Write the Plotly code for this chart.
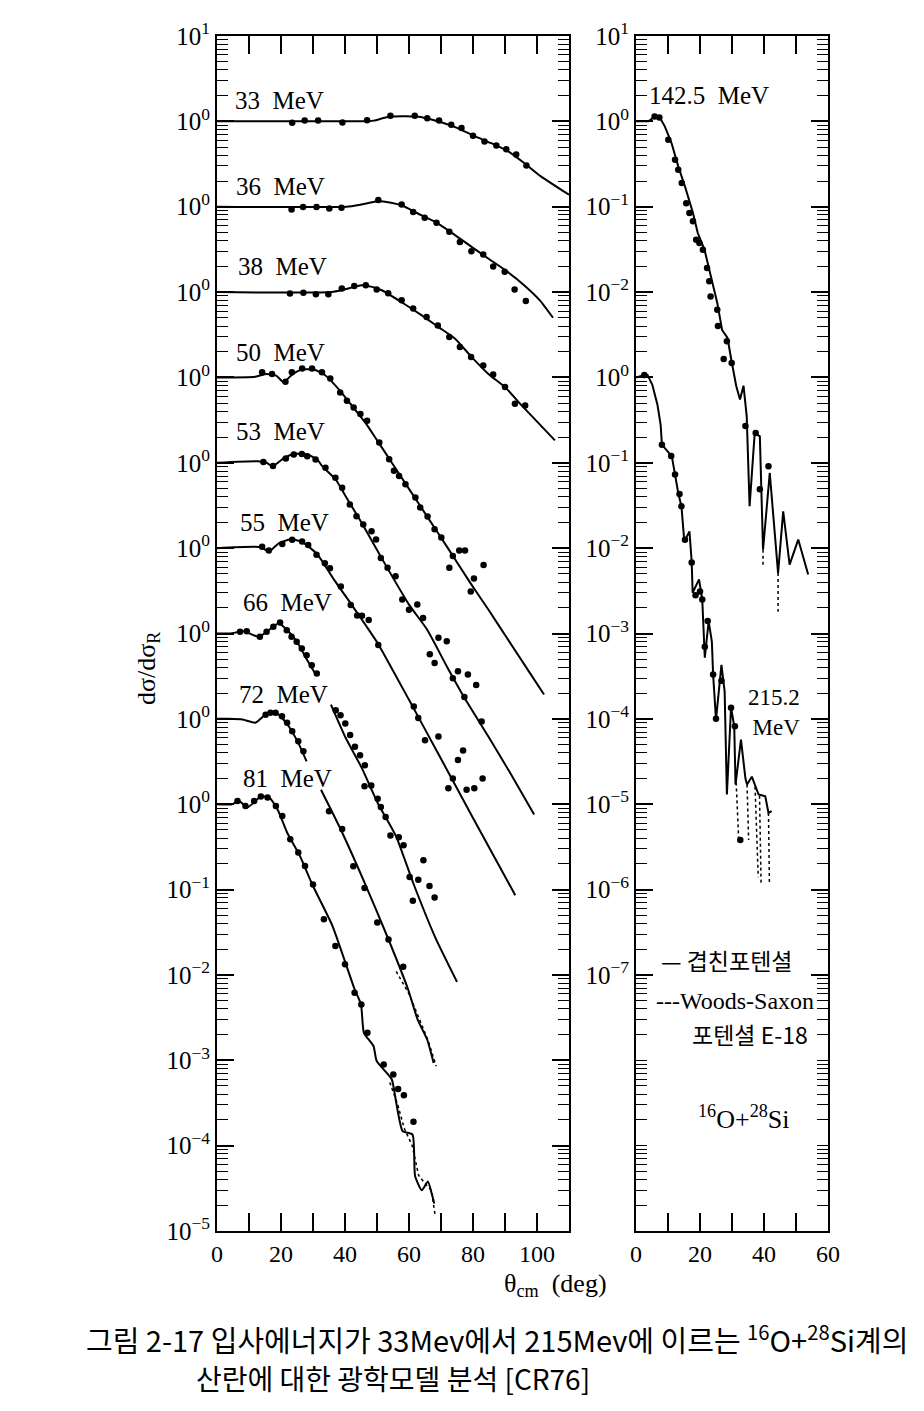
import plotly.graph_objects as go

# page body has an 8 px margin: figure is drawn 8 px in from the window corner
OFF = 8
W, H = 924 - 2 * OFF, 1411 - 2 * OFF

# ---------------- data (dσ/dσR ratio, each curve shown shifted by decades) -------------
# Left panel
e33_lx = [0, 45, 49, 53, 58, 63, 67, 71, 75, 80.5, 85.7, 91, 96, 101, 110]
e33_ly = [1.0, 1.0, 1.02, 1.12, 1.15, 1.13, 1.05, 0.95, 0.84, 0.67, 0.555, 0.445, 0.325, 0.23, 0.138]
e33_px = [23.5, 27.4, 31.6, 39.2, 46.9, 54.2, 61.8, 65.7, 69.4, 73.2, 76.4, 80, 83.6, 87.3, 90.4, 93.5, 96.7]
e33_py = [0.96, 1.02, 1.02, 0.97, 1.03, 1.16, 1.16, 1.09, 1.02, 0.91, 0.835, 0.68, 0.58, 0.52, 0.47, 0.41, 0.305]

e36_lx = [0, 40.5, 45, 50.4, 54, 58.2, 62.3, 68.6, 74.8, 80, 85.2, 90.5, 95.7, 100.9, 105]
e36_ly = [1.0, 1.0, 1.06, 1.16, 1.12, 1.02, 0.85, 0.65, 0.453, 0.33, 0.241, 0.176, 0.123, 0.08, 0.05]
e36_px = [23.3, 26.9, 31.1, 35.1, 38.9, 50.4, 57.7, 61.3, 64.9, 68.6, 72.6, 75.9, 79.5, 83.2, 86.3, 89.9, 93, 96.5]
e36_py = [0.93, 0.99, 0.99, 0.955, 0.97, 1.2, 1.065, 0.866, 0.743, 0.65, 0.51, 0.385, 0.30, 0.276, 0.2, 0.173, 0.107, 0.0785]

e38_lx = [0, 35.8, 40, 45.2, 48.5, 51.5, 57.7, 64, 69.2, 74.4, 79.6, 84.8, 90, 95.2, 105.6]
e38_ly = [1.0, 1.0, 1.08, 1.2, 1.15, 1.05, 0.76, 0.533, 0.389, 0.284, 0.173, 0.11, 0.077, 0.047, 0.0183]
e38_px = [22.8, 27, 30.9, 34.8, 39, 42.9, 46.5, 49.9, 53.5, 57.7, 61.3, 65.5, 69, 72.6, 75.9, 79.4, 83.2, 86.3, 90, 93.1, 96.3]
e38_py = [0.96, 0.98, 0.94, 0.94, 1.1, 1.18, 1.2, 1.07, 0.97, 0.8, 0.64, 0.51, 0.407, 0.297, 0.227, 0.173, 0.138, 0.108, 0.077, 0.049, 0.047]

e50_lx = [0, 12, 15.5, 18.5, 20.8, 23.5, 26.5, 30.5, 33.8, 38, 42.2, 46.3, 49.8, 55, 60, 66, 72, 79, 85, 90, 97.7, 102.2]
e50_ly = [1.0, 1.02, 1.1, 1.05, 0.88, 1.08, 1.24, 1.23, 1.06, 0.73, 0.465, 0.297, 0.189, 0.0955, 0.0495,
          0.0225, 0.0102, 0.004, 0.00186, 0.00096, 0.000348, 0.000193]
e50_px = [14.1, 17.2, 21.4, 23.4, 26.6, 29.7, 32.8, 35.4, 38.5, 40.6, 42.7, 44.8, 46.9, 50.7, 53.8, 55.3, 56.9,
          58.9, 62, 63.5, 65.8, 68, 70.1, 73.7, 75.7, 77.5, 72.6, 80.3, 83.3, 79.3]
e50_py = [1.15, 1.10, 0.89, 1.15, 1.27, 1.27, 1.15, 0.97, 0.667, 0.533, 0.445, 0.372, 0.31, 0.173, 0.110, 0.0804,
          0.0702, 0.0562, 0.0392, 0.0299, 0.0235, 0.0167, 0.0133, 0.0081, 0.0094, 0.0094, 0.0059, 0.0044, 0.00636, 0.0031]

e53_lx = [0, 12.7, 15.5, 17.4, 21.1, 24.2, 28.4, 31.5, 33, 37.1, 40.2, 45.2, 52.3, 60, 65.6, 72, 77.7, 84.8, 92, 99.1]
e53_ly = [1.0, 1.04, 1.0, 0.91, 1.15, 1.27, 1.25, 1.07, 0.9, 0.637, 0.406, 0.198, 0.0672, 0.0218, 0.0112, 0.004,
          0.00167, 0.00062, 0.00022, 7.6e-5]
e53_px = [14.5, 17.5, 21.5, 24, 26.5, 28.2, 30.8, 33.9, 37, 39.1, 41.5, 43.6, 45.7, 48.3, 49.7, 51.2, 53.3, 55.8,
          57.9, 60, 62.6, 64.4, 69.2, 71.8, 66.5, 68, 73.7, 75.3, 78.4, 81, 77.3, 82.7]
e53_py = [1.02, 0.92, 1.12, 1.25, 1.27, 1.19, 1.09, 0.873, 0.667, 0.509, 0.324, 0.237, 0.189, 0.158, 0.126, 0.0769,
          0.0588, 0.0468, 0.0251, 0.019, 0.0218, 0.0152, 0.0089, 0.0081, 0.0057, 0.0045, 0.003, 0.0036, 0.0033,
          0.0025, 0.0018, 0.00093]

e55_lx = [0, 13.6, 16.2, 19.3, 23, 26.1, 29.2, 31.5, 36.6, 41.7, 46.8, 50.4, 60, 70, 80, 93.2]
e55_ly = [1.0, 1.03, 0.91, 1.14, 1.27, 1.2, 1.0, 0.835, 0.425, 0.227, 0.12, 0.075, 0.0167, 0.0034, 0.00069, 8.6e-5]
e55_px = [14.1, 16.2, 20.4, 23.5, 26.6, 28.5, 31.1, 33.7, 35.3, 38.7, 41.8, 43.8, 45.3, 47.4, 50.4, 61.5, 62.9,
          65, 69.2, 73.7, 76.9, 75.3, 72.3, 78, 80.4, 83]
e55_py = [1.04, 0.94, 1.12, 1.25, 1.2, 1.09, 0.835, 0.667, 0.583, 0.355, 0.216, 0.162, 0.161, 0.144, 0.0735, 0.014,
          0.0102, 0.0056, 0.0062, 0.002, 0.00425, 0.0033, 0.00154, 0.00148, 0.00154, 0.002]

# 66, 72 MeV lines are interrupted where the next label sits (None = gap)
e66_lx = [0, 4.2, 8.3, 13, 15.6, 19.3, 21.9, 25, 27.9, 31, None, 35.6, 40.2, 45.2, 50.3, 55.9, 61.4, 68.3, 75]
e66_ly = [1.0, 1.0, 1.06, 0.915, 1.05, 1.32, 1.1, 0.8, 0.509, 0.324, None, 0.147, 0.06, 0.0268, 0.0102, 0.00425,
          0.00117, 0.00027, 8.3e-5]
e66_px = [7.2, 9.3, 13.4, 15.5, 17.6, 19.7, 21.8, 23.3, 24.9, 26.5, 28, 29.6, 31.2, 37.1, 38.6, 40.1, 41.6, 43.1,
          44.7, 46.2, 46.1, 48.2, 50.2, 51.2, 52.7, 54.2, 56.8, 58.3, 60.2, 64.5, 62.9, 66.4, 61.2, 68]
e66_py = [1.05, 1.06, 0.915, 1.05, 1.2, 1.35, 1.09, 0.915, 0.8, 0.667, 0.557, 0.425, 0.34, 0.126, 0.110, 0.088,
          0.0645, 0.047, 0.0374, 0.0286, 0.0162, 0.0166, 0.0116, 0.0093, 0.0071, 0.0043, 0.0041, 0.0033, 0.0014,
          0.0022, 0.0013, 0.0011, 0.00074, 0.00081]

e72_lx = [0, 3.7, 8, 12, 15.1, 16.7, 19.3, 22.4, 25.4, 28, None, 32.5, 38.6, 45.7, 53.6, 59.7, 62.7, 65.7, 67.7]
e72_ly = [1.0, 1.0, 0.98, 0.9, 1.12, 1.18, 1.12, 0.82, 0.523, 0.318, None, 0.148, 0.0513, 0.0131, 0.0026, 0.00068,
          0.0003, 0.000174, 9.3e-5]
e72_px = [15.2, 16.7, 18.3, 20.3, 21.9, 23.5, 25.4, 27, 35, 39.1, 42.6, 46.1, 50.1, 53.6, 58.2]
e72_py = [1.12, 1.18, 1.18, 1.07, 0.9, 0.716, 0.546, 0.417, 0.0826, 0.0513, 0.0187, 0.0104, 0.0041, 0.0026, 0.00125]
e72_wsx = [56, 60, 63, 66, 68.5]
e72_wsy = [0.0011, 0.0006, 0.00032, 0.00017, 8.5e-5]

e81_lx = [0, 4.8, 6.9, 9.5, 13.7, 16.3, 18.9, 21.9, 25.9, 30, 36.1, 43, 45, 45.9, 48.9, 49.9, 54.6, 56, 58, 61.1,
          61.9, 64, 65.9, 67.1, 67.9]
e81_ly = [1.0, 1.0, 1.09, 0.915, 1.23, 1.2, 0.874, 0.466, 0.248, 0.11, 0.0374, 0.0068, 0.00453, 0.0021, 0.00147,
          0.00098, 0.0006, 0.00032, 0.000148, 0.000135, 4.4e-5, 3.0e-5, 3.8e-5, 2.75e-5, 2.1e-5]
e81_px = [6.4, 8.9, 11.6, 13.7, 15.8, 18.4, 20.4, 22.9, 25.4, 27.5, 30, 33.4, 37, 40, 43, 45.1, 47, 52.1, 55.1,
          56.6, 58.4, 61.4]
e81_py = [1.09, 0.955, 1.09, 1.23, 1.2, 0.955, 0.73, 0.389, 0.272, 0.189, 0.115, 0.0449, 0.0218, 0.0133, 0.0062,
          0.0045, 0.0021, 0.00089, 0.00068, 0.00046, 0.00039, 0.00019]
e81_wsx = [54, 56.5, 58.5, 61, 63, 65, 67, 68.2]
e81_wsy = [0.00055, 0.0003, 0.00016, 0.0001, 4.5e-5, 3.6e-5, 3.0e-5, 1.5e-5]

# Right panel
e142_lx = [0, 3.9, 5.9, 7.5, 9, 11.1, 13.2, 15.3, 17.8, 19.3, 21.4, 23.4, 25.4, 26.9, 28.6, 29.8, 31.3, 32.5, 33.6,
           34.6, 35.5, 37.1, 38.7, 39.7, 41.8, 44.4, 46, 48, 50.7, 53.8]
e142_ly = [1.0, 1.0, 1.14, 1.1, 0.874, 0.557, 0.297, 0.173, 0.0844, 0.0492, 0.0314, 0.0153, 0.00746, 0.0036, 0.0029,
           0.0016, 0.0008, 0.00055, 0.0008, 0.00035, 3.1e-5, 0.000224, 0.000204, 9.6e-6, 7.6e-5, 5.1e-6, 2.7e-5,
           6.4e-6, 1.26e-5, 4.9e-6]
e142_px = [5.8, 7.3, 10.1, 12.2, 13.2, 14.3, 15.7, 16.7, 17.8, 18.8, 19.8, 20.9, 22.2, 22.9, 23.3, 25.4, 25.6, 27.4,
           28.4, 29.9, 34.2, 37.4, 41.4, 38.7]
e142_py = [1.14, 1.11, 0.609, 0.355, 0.271, 0.189, 0.11, 0.0844, 0.0674, 0.0411, 0.0376, 0.0314, 0.0191, 0.0134,
           0.0089, 0.0062, 0.0040, 0.00164, 0.00265, 0.00148, 0.00027, 0.000224, 9.1e-5, 4.9e-5]
e142_wsx = [39.7, 39.7, None, 44.4, 44.4]
e142_wsy = [9.6e-6, 5.9e-6, None, 5.1e-6, 1.8e-6]

e215_lx = [0, 2.6, 3.6, 5.1, 6.7, 7.7, 8.1, 11.2, 12.2, 13.2, 14.2, 15.1, 16.7, 17.4, 17.7, 19.7, 20.7, 21.5, 22.7,
           23.7, 24.1, 25, 26.7, 27.7, 28.4, 29.7, 30.7, 31.1, 32.8, 34.2, 34.7, 36.2, 38.3, 40.4, 41.4, 42.4]
e215_ly = [1.0, 1.07, 1.07, 0.82, 0.48, 0.279, 0.163, 0.119, 0.0726, 0.0443, 0.0309, 0.012, 0.0157, 0.007, 0.003,
           0.0043, 0.0025, 0.00052, 0.00139, 0.00081, 0.00033, 9.8e-5, 0.00043, 0.00021, 1.3e-5, 0.000135, 8.2e-5,
           1.7e-5, 5.7e-5, 2.0e-5, 1.7e-5, 2.1e-5, 1.3e-5, 1.24e-5, 7.9e-6, 8.3e-6]
e215_px = [2.6, 8.1, 11.0, 12.2, 13.6, 14.2, 15.3, 17.4, 18.6, 20.0, 20.7, 21.5, 22.4, 24.1, 25.0, 26.7, 29.7, 30.9, 32.6]
e215_py = [1.07, 0.163, 0.12, 0.073, 0.043, 0.031, 0.0125, 0.0068, 0.0028, 0.0031, 0.0025, 0.0007, 0.0014, 0.00033,
           0.0001, 0.00028, 0.000135, 8.2e-5, 3.8e-6]
e215_wsx = [31.3, 32.1, None, 34.7, 35.2, None, 37.2, 38.2, None, 38.6, 39.1, None, 41.4, 41.7]
e215_wsy = [1.8e-5, 3.8e-6, None, 1.7e-5, 3.8e-6, None, 1.6e-5, 1.4e-6, None, 1.26e-5, 1.15e-6, None, 7.9e-6, 1.15e-6]

# decade offsets used in the drawing
left_curves = [
    ("33 MeV", e33_lx, e33_ly, e33_px, e33_py, 0),
    ("36 MeV", e36_lx, e36_ly, e36_px, e36_py, -1),
    ("38 MeV", e38_lx, e38_ly, e38_px, e38_py, -2),
    ("50 MeV", e50_lx, e50_ly, e50_px, e50_py, -3),
    ("53 MeV", e53_lx, e53_ly, e53_px, e53_py, -4),
    ("55 MeV", e55_lx, e55_ly, e55_px, e55_py, -5),
    ("66 MeV", e66_lx, e66_ly, e66_px, e66_py, -6),
    ("72 MeV", e72_lx, e72_ly, e72_px, e72_py, -7),
    ("81 MeV", e81_lx, e81_ly, e81_px, e81_py, -8),
]
right_curves = [
    ("142.5 MeV", e142_lx, e142_ly, e142_px, e142_py, 0),
    ("215.2 MeV", e215_lx, e215_ly, e215_px, e215_py, -3),
]
left_ws = [(e72_wsx, e72_wsy, -7), (e81_wsx, e81_wsy, -8)]
right_ws = [(e142_wsx, e142_wsy, 0), (e215_wsx, e215_wsy, -3)]

left_ticktext = ["10<sup>1</sup>"] + ["10<sup>0</sup>"] * 9 + ["10<sup>−1</sup>", "10<sup>−2</sup>",
                                                             "10<sup>−3</sup>", "10<sup>−4</sup>", "10<sup>−5</sup>"]
right_ticktext = ["10<sup>1</sup>", "10<sup>0</sup>", "10<sup>−1</sup>", "10<sup>−2</sup>", "10<sup>0</sup>",
                  "10<sup>−1</sup>", "10<sup>−2</sup>", "10<sup>−3</sup>", "10<sup>−4</sup>", "10<sup>−5</sup>",
                  "10<sup>−6</sup>", "10<sup>−7</sup>"]
left_xticks = [0, 20, 40, 60, 80, 100]
right_xticks = [0, 20, 40, 60]

# ---------------- figure -------------------------------------------------------------
fig = go.Figure()
LINE = dict(color="black", width=2, shape="spline", smoothing=0.5)


def sc(vals, k):
    return [None if v is None else v * 10.0 ** k for v in vals]


for name, lx, ly, px, py, k in left_curves:
    fig.add_trace(go.Scatter(x=lx, y=sc(ly, k), mode="lines", line=LINE, xaxis="x", yaxis="y",
                             connectgaps=False, hoverinfo="skip", showlegend=False))
    fig.add_trace(go.Scatter(x=px, y=sc(py, k), mode="markers", marker=dict(color="black", size=6.5),
                             xaxis="x", yaxis="y", showlegend=False, name=name))
for wx, wy, k in left_ws:
    fig.add_trace(go.Scatter(x=wx, y=sc(wy, k), mode="lines", line=dict(color="black", width=1.5, dash="dot"),
                             xaxis="x", yaxis="y", showlegend=False, connectgaps=False))

for name, lx, ly, px, py, k in right_curves:
    fig.add_trace(go.Scatter(x=lx, y=sc(ly, k), mode="lines", line=dict(color="black", width=2),
                             xaxis="x2", yaxis="y2", hoverinfo="skip", showlegend=False))
    fig.add_trace(go.Scatter(x=px, y=sc(py, k), mode="markers", marker=dict(color="black", size=6.5),
                             xaxis="x2", yaxis="y2", showlegend=False, name=name))
for wx, wy, k in right_ws:
    fig.add_trace(go.Scatter(x=wx, y=sc(wy, k), mode="lines", line=dict(color="black", width=1.5, dash="dot"),
                             xaxis="x2", yaxis="y2", showlegend=False, connectgaps=False))

SERIF = "Liberation Serif"
KR = "Noto Sans CJK KR"
left_decades = [10.0 ** e for e in range(1, -14, -1)]
right_decades = [10.0 ** e for e in range(1, -11, -1)]
minor_left = [m * 10.0 ** e for e in range(-13, 1) for m in range(2, 10)]
minor_right = minor_left + [1e-11, 1e-12]


def fx(px):  # window pixel -> paper fraction
    return (px - OFF) / W


def fy(py):
    return 1 - (py - OFF) / H


y_top, y_bot = 36, 1231
ydom = [fy(y_bot), fy(y_top)]


def xax(dom, rng, tv, anchor):
    return dict(domain=dom, range=rng, tickmode="array", tickvals=tv, ticks="inside",
                ticklen=18, tickwidth=1.5, tickcolor="black", showline=True, linecolor="black",
                linewidth=2, mirror="allticks", showgrid=False, zeroline=False, automargin=False,
                anchor=anchor, tickfont=dict(family=SERIF, size=24, color="black"),
                minor=dict(dtick=10, tick0=0, ticks="inside", ticklen=18, tickwidth=1.5,
                           tickcolor="black", showgrid=False))


def yax(anchor, tv, tt, mv):
    return dict(domain=ydom, type="log", range=[-13, 1], tickmode="array", tickvals=tv, ticktext=tt,
                ticks="inside", ticklen=17, tickwidth=1.5, tickcolor="black", showline=True,
                linecolor="black", linewidth=2, mirror="allticks", showgrid=False, zeroline=False,
                anchor=anchor, automargin=False, tickfont=dict(family=SERIF, size=25, color="black"),
                minor=dict(tickmode="array", tickvals=mv, ticks="inside", ticklen=11,
                           tickwidth=1.2, tickcolor="black", showgrid=False))


fig.update_layout(
    width=W, height=H, margin=dict(l=0, r=0, t=0, b=0, autoexpand=False),
    paper_bgcolor="white", plot_bgcolor="white", showlegend=False,
    xaxis=xax([fx(217), fx(569)], [0, 110], left_xticks, "y"),
    yaxis=yax("x", left_decades, left_ticktext, minor_left),
    xaxis2=xax([fx(636), fx(828)], [0, 60], right_xticks, "y2"),
    yaxis2=yax("x2", right_decades, right_ticktext, minor_right),
)


def note(text, px, py, size, font=SERIF, xanchor="center", angle=0, align="center"):
    fig.add_annotation(text=text, x=fx(px), y=fy(py), xref="paper", yref="paper", showarrow=False,
                       xanchor=xanchor, yanchor="middle", textangle=angle, align=align,
                       font=dict(family=font, size=size, color="black"))


label_pos = {"33 MeV": (279, 100), "36 MeV": (280, 186), "38 MeV": (282, 266), "50 MeV": (280, 352),
             "53 MeV": (280, 432), "55 MeV": (284, 522), "66 MeV": (287, 602), "72 MeV": (283, 694),
             "81 MeV": (287, 778)}
for name, *_ in left_curves:
    note(name.replace(" ", "&nbsp;&nbsp;"), *label_pos[name], 25)
note("142.5&nbsp;&nbsp;MeV", 709, 95, 25)
note("215.2<br>MeV", 802, 712, 23, xanchor="right", align="right")

note("dσ/dσ<sub>R</sub>", 148, 668, 26, angle=-90)
note("θ<sub>cm</sub>&nbsp;&nbsp;(deg)", 555, 1285, 26)

note("— 겹친포텐셜", 727, 960, 23, font=KR)
note("---Woods-Saxon", 735, 1001, 24)
note("포텐셜 E-18", 750, 1034, 23, font=KR)
note("<sup>16</sup>O+<sup>28</sup>Si", 744, 1117, 26)

note("그림 2-17 입사에너지가 33Mev에서 215Mev에 이르는 <sup>16</sup>O+<sup>28</sup>Si계의", 497, 1338, 29, font=KR)
note("산란에 대한 광학모델 분석 [CR76]", 393, 1378, 28, font=KR)

fig.write_html("out.html")
